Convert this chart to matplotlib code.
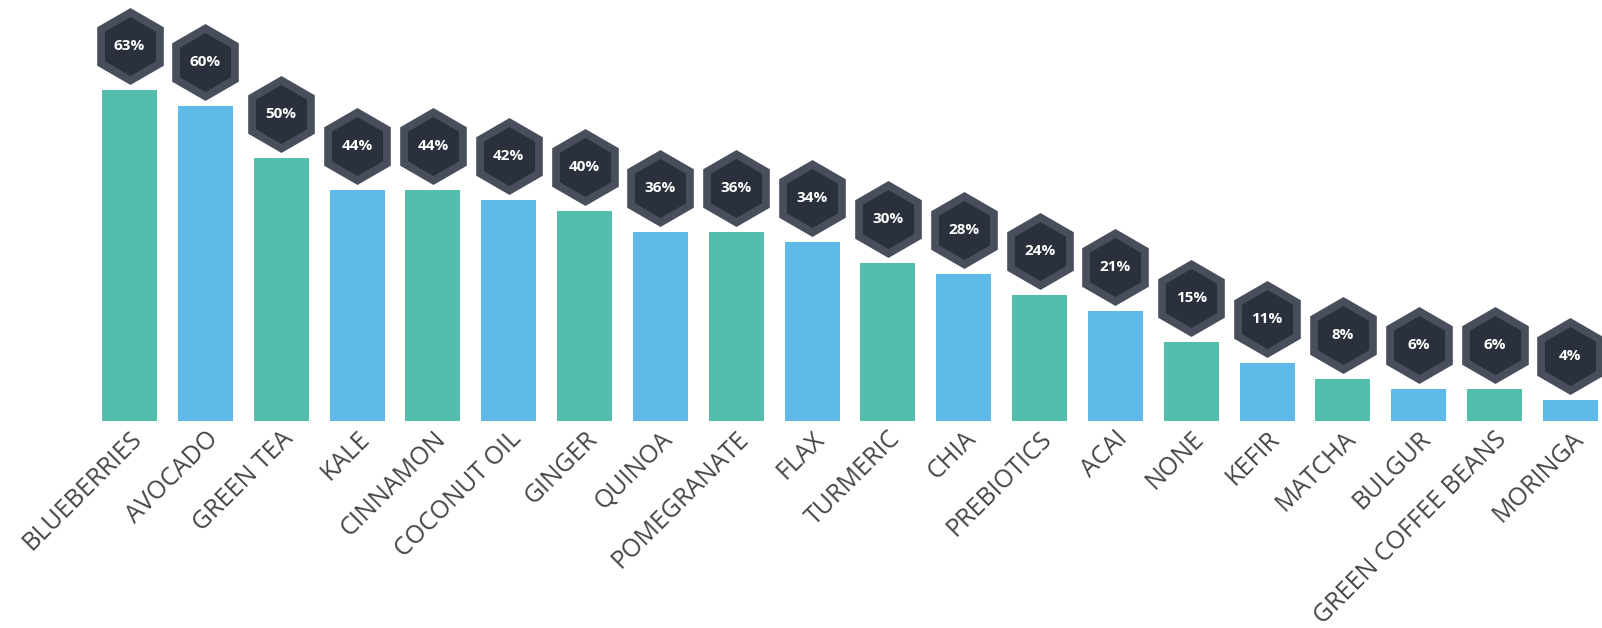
import matplotlib
matplotlib.use("Agg")
import matplotlib.pyplot as plt
from matplotlib.transforms import offset_copy

categories = ["BLUEBERRIES", "AVOCADO", "GREEN TEA", "KALE", "CINNAMON", "COCONUT OIL",
              "GINGER", "QUINOA", "POMEGRANATE", "FLAX", "TURMERIC", "CHIA", "PREBIOTICS",
              "ACAI", "NONE", "KEFIR", "MATCHA", "BULGUR", "GREEN COFFEE BEANS", "MORINGA"]
values = [63, 60, 50, 44, 44, 42, 40, 36, 36, 34, 30, 28, 24, 21, 15, 11, 8, 6, 6, 4]
bar_colors = ["#52BEAB", "#5FB9E9"]

plt.rcParams['font.family'] = ['Open Sans', 'DejaVu Sans']

fig = plt.figure(figsize=(16.02, 6.28), dpi=100)
ax = fig.add_axes([91.6 / 1602, 207 / 628, 1516.8 / 1602, 421 / 628])

x = list(range(len(categories)))
colors = [bar_colors[i % 2] for i in x]
ax.bar(x, values, width=0.725, color=colors, zorder=1)

ax.set_xlim(-0.5, len(categories) - 0.5)
ax.set_ylim(0, 80.13)

hex_tr = offset_copy(ax.transData, fig=fig, x=0, y=44, units='dots')
ax.plot(x, values, linestyle='none', marker='h', markersize=55.4,
        markerfacecolor='#484E5C', markeredgewidth=0, transform=hex_tr,
        clip_on=False, zorder=3)
ax.plot(x, values, linestyle='none', marker='h', markersize=42.5,
        markerfacecolor='#2B313C', markeredgewidth=0, transform=hex_tr,
        clip_on=False, zorder=4)
for xi, v in zip(x, values):
    ax.text(xi, v, f"{v}%", transform=hex_tr, ha='center', va='center',
            color='white', fontsize=11, fontweight='bold', zorder=5, clip_on=False)

ax.set_xticks(x)
ax.set_xticklabels(categories, rotation=45, ha='right', rotation_mode='anchor',
                   fontsize=18, color='#454545')
ax.tick_params(axis='x', length=0, pad=4)
ax.set_yticks([])
for s in ax.spines.values():
    s.set_visible(False)

fig.savefig("out.png", dpi=100)
